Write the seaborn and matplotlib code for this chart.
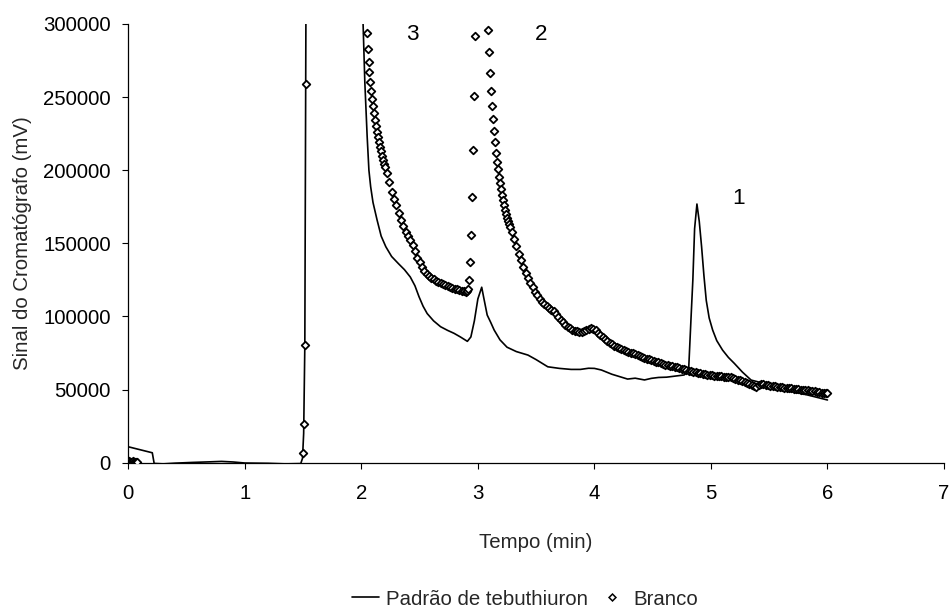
import matplotlib
matplotlib.use("Agg")
import matplotlib.pyplot as plt
from matplotlib.lines import Line2D
import seaborn as sns
import pandas as pd

# ---------------- data ----------------
# Padrão de tebuthiuron (solid line): time (min), signal (mV)
padrao_t = [0.000, 0.206, 0.222, 0.30, 0.40, 0.55, 0.70, 0.80, 0.90, 1.00, 1.20, 1.35, 1.48,
            1.495, 1.505, 1.515, 1.520, 1.525, 1.530, 1.990,
            2.000, 2.015, 2.030, 2.050, 2.065, 2.080, 2.100, 2.135, 2.170, 2.210, 2.260, 2.320,
            2.370, 2.420, 2.460, 2.495, 2.530, 2.565, 2.620, 2.680, 2.740, 2.795, 2.850, 2.910,
            2.940, 2.970, 3.000, 3.033, 3.050, 3.080, 3.110, 3.140, 3.190, 3.250, 3.330, 3.430,
            3.500, 3.600, 3.700, 3.800, 3.880, 3.950, 4.000, 4.060, 4.150, 4.285, 4.350, 4.430,
            4.490, 4.550, 4.620, 4.700, 4.770, 4.800, 4.810, 4.830, 4.845, 4.860, 4.880, 4.900,
            4.920, 4.940, 4.960, 4.985, 5.015, 5.050, 5.100, 5.150, 5.200, 5.270, 5.345, 5.400,
            5.450, 5.500, 5.600, 5.700, 5.830, 5.920, 6.000]
padrao_y = [10900, 6800, -500, -800, -300, 200, 600, 900, 500, -200, -400, -800, -600,
            3000, 20000, 80000, 200000, 320000, 400000, 400000,
            310000, 300000, 260000, 223000, 200000, 188700, 178000, 166000, 155000, 147700, 141000, 136000,
            132000, 127000, 121000, 113500, 107000, 102000, 97000, 93000, 90500, 88500, 86000, 83000,
            86000, 97000, 112000, 120000, 113000, 101000, 96000, 90700, 84000, 79000, 76000, 73600,
            70500, 65600, 64500, 63800, 63800, 64600, 64500, 63400, 60500, 57200, 57800, 56600,
            57700, 58300, 58500, 59300, 60000, 62000, 65600, 100000, 125000, 160000, 176900, 165000,
            147700, 128000, 111000, 99000, 90700, 83500, 77000, 72000, 68000, 62000, 56500, 55400,
            53500, 52500, 50500, 48500, 46300, 44500, 42900]

# Branco (open diamond markers): time (min), signal (mV)
branco_t = [0.000, 0.008, 0.016, 0.025, 0.033, 0.041, 0.050, 0.058, 0.066, 0.075,
            1.500, 1.508, 1.517, 1.526,
            2.045, 2.053, 2.062, 2.070, 2.078, 2.087, 2.095, 2.103, 2.112, 2.120,
            2.128, 2.136, 2.145, 2.153, 2.161, 2.170, 2.178, 2.186, 2.195, 2.203,
            2.22, 2.24, 2.26, 2.28, 2.30, 2.32, 2.34, 2.36, 2.38, 2.40, 2.42, 2.44,
            2.46, 2.48, 2.50, 2.52, 2.54, 2.56, 2.58, 2.60, 2.62, 2.64, 2.66, 2.68,
            2.70, 2.72, 2.74, 2.76, 2.78, 2.80, 2.82, 2.84, 2.86, 2.88, 2.90, 2.91,
            2.918, 2.926, 2.935, 2.943, 2.951, 2.960, 2.968, 2.977,
            3.090, 3.098, 3.107, 3.115, 3.123, 3.132, 3.140, 3.148, 3.157, 3.165,
            3.173, 3.182, 3.190, 3.198, 3.207, 3.215, 3.223, 3.232, 3.240, 3.248,
            3.257, 3.265, 3.273,
            3.29, 3.31, 3.33, 3.35, 3.37, 3.39, 3.41, 3.43, 3.45, 3.47, 3.49, 3.51,
            3.53, 3.55, 3.57, 3.59, 3.61, 3.63, 3.65, 3.67, 3.69, 3.71, 3.73, 3.75,
            3.77, 3.79, 3.81, 3.83, 3.85, 3.87, 3.89, 3.91, 3.93, 3.95, 3.97, 3.99,
            4.01, 4.03, 4.05, 4.07, 4.09, 4.11, 4.13, 4.15, 4.17, 4.19, 4.21, 4.23,
            4.25, 4.27, 4.29, 4.31, 4.33, 4.35, 4.37, 4.39, 4.41, 4.43, 4.45, 4.47,
            4.49, 4.51, 4.53, 4.55, 4.57, 4.59, 4.61, 4.63, 4.65, 4.67, 4.69, 4.71,
            4.73, 4.75, 4.77, 4.79, 4.81, 4.83, 4.85, 4.87, 4.89, 4.91, 4.93, 4.95,
            4.97, 4.99, 5.01, 5.03, 5.05, 5.07, 5.09, 5.11, 5.13, 5.15, 5.17, 5.19,
            5.21, 5.23, 5.25, 5.27, 5.29, 5.31, 5.33, 5.35, 5.37, 5.39, 5.41, 5.43,
            5.45, 5.47, 5.49, 5.51, 5.53, 5.55, 5.57, 5.59, 5.61, 5.63, 5.65, 5.67,
            5.69, 5.71, 5.73, 5.75, 5.77, 5.79, 5.81, 5.83, 5.85, 5.87, 5.89, 5.91,
            5.93, 5.95, 5.97, 5.99, 6.00]
branco_y = [800, 900, 700, 800, 600, 900, 700, 800, 600, 700,
            6800, 26500, 80300, 259000,
            294000, 283000, 274000, 267000, 260000, 254000, 249000, 244000, 239000, 234500,
            230000, 226000, 222500, 219000, 216000, 213000, 210000, 207000, 204500, 202000,
            198000, 192000, 185000, 180000, 176000, 171000, 166000, 162000, 158000, 155000, 152000, 149000,
            145000, 140000, 137000, 134000, 131000, 129000, 127500, 126500, 125500, 124500, 123800, 123000,
            122500, 121800, 121000, 120300, 119700, 119000, 118600, 118100, 117600, 117200, 116800, 117500,
            119000, 125000, 137000, 156000, 182000, 214000, 251000, 292000,
            296000, 280600, 266700, 254400, 244000, 235000, 226800, 219000, 212000, 205800,
            200600, 195600, 191000, 187000, 183000, 179500, 176000, 173000, 170000, 167500,
            165000, 163000, 161400,
            158000, 153000, 148000, 143000, 138500, 134000, 130000, 126000, 123000, 120000, 117000, 114500,
            112000, 110000, 108500, 107000, 105500, 104500, 104000, 102000, 99500, 97500, 96000, 94500,
            93000, 92000, 91000, 90300, 89800, 89500, 89600, 90000, 90800, 91500, 92000, 91500,
            90500, 89000, 87500, 86000, 84500, 83000, 82000, 81000, 80000, 79300, 78500, 77800,
            77000, 76300, 75800, 75200, 74700, 74200, 73500, 72800, 72200, 71700, 71200, 70600,
            70200, 69700, 69200, 68600, 68100, 67600, 67000, 66600, 66200, 65800, 65500, 65200,
            64800, 64300, 63800, 63200, 62800, 62400, 62000, 61700, 61400, 61100, 60800, 60500,
            60100, 59900, 59700, 59500, 59300, 59100, 59000, 58900, 58800, 58600, 58300, 57900,
            57300, 56800, 56300, 55800, 55300, 54700, 53900, 53000, 52200, 52100, 52900, 53600,
            53500, 53200, 53000, 52800, 52500, 52200, 52000, 51800, 51600, 51400, 51200, 51000,
            50800, 50600, 50400, 50200, 50000, 49900, 49700, 49500, 49300, 49000, 48800, 48500,
            48300, 48000, 47800, 47500, 47400]

x_ticks = [0, 1, 2, 3, 4, 5, 6, 7]
y_ticks = [0, 50000, 100000, 150000, 200000, 250000, 300000]
y_tick_labels = ["0", "50000", "100000", "150000", "200000", "250000", "300000"]
peak_labels = ["3", "2", "1"]
peak_label_x = [2.44, 3.54, 5.24]
peak_label_y = [293000, 293000, 181000]

series_names = ["Padrão de tebuthiuron", "Branco"]
x_label = "Tempo (min)"
y_label = "Sinal do Cromatógrafo (mV)"

# ---------------- plot ----------------
sns.set_theme(style="ticks")
plt.rcParams["font.family"] = ["Liberation Sans", "DejaVu Sans"]
FS = 14.7

fig = plt.figure(figsize=(9.51, 6.09), dpi=100)
ax = fig.add_axes([0.1349, 0.2402, 0.8577, 0.7204])

df_p = pd.DataFrame({"t": padrao_t, "y": padrao_y})
df_b = pd.DataFrame({"t": branco_t, "y": branco_y})

sns.lineplot(data=df_p, x="t", y="y", ax=ax, color="black", linewidth=1.2,
             sort=False, estimator=None, legend=False)
sns.scatterplot(data=df_b, x="t", y="y", ax=ax, marker="D", s=15,
                facecolor="white", edgecolor="black", linewidth=1.3,
                legend=False, zorder=3)

ax.set_xlim(0, 7)
ax.set_ylim(0, 300000)
ax.set_xticks(x_ticks)
ax.set_xticklabels([str(v) for v in x_ticks])
ax.set_yticks(y_ticks)
ax.set_yticklabels(y_tick_labels)
ax.tick_params(axis="both", direction="out", length=4.5, width=0.8,
               colors="black", labelsize=FS)
ax.tick_params(axis="y", pad=8)
ax.tick_params(axis="x", pad=11)
for s in ["top", "right"]:
    ax.spines[s].set_visible(False)
for s in ["left", "bottom"]:
    ax.spines[s].set_color("black")
    ax.spines[s].set_linewidth(0.9)

ax.set_xlabel(x_label, fontsize=FS)
ax.set_ylabel(y_label, fontsize=FS)
ax.yaxis.set_label_coords(-0.118, 0.5)
ax.xaxis.set_label_coords(0.5, -0.16)

for lab, lx, ly in zip(peak_labels, peak_label_x, peak_label_y):
    ax.text(lx, ly, lab, fontsize=FS + 1.5, ha="center", va="center", color="black")

handles = [Line2D([0], [0], color="black", linewidth=1.2),
           Line2D([0], [0], marker="D", linestyle="none", markersize=3.5,
                  markerfacecolor="white", markeredgecolor="black", markeredgewidth=1.1)]
fig.legend(handles, series_names, loc="center", bbox_to_anchor=(0.552, 0.0164),
           ncol=2, frameon=False, fontsize=FS, handlelength=1.3,
           handletextpad=0.35, columnspacing=0.55, borderaxespad=0, borderpad=0)

fig.savefig("out.png", dpi=100)
